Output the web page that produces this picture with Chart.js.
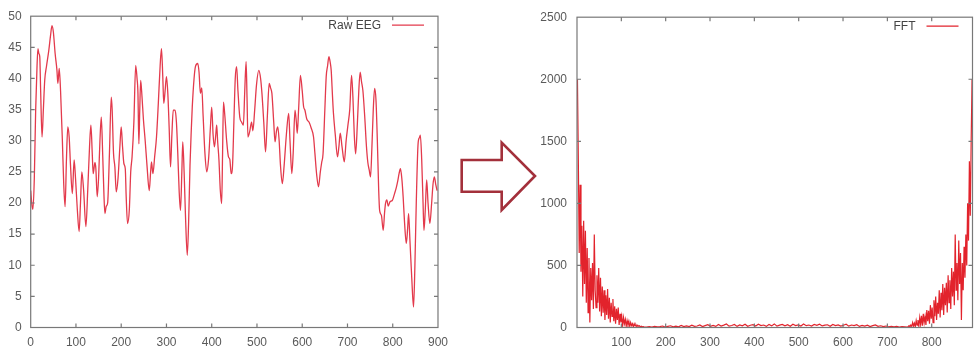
<!DOCTYPE html>
<html>
<head>
<meta charset="utf-8">
<script src="https://cdn.jsdelivr.net/npm/chart.js@4/dist/chart.umd.min.js"></script>
<style>
  html, body { margin: 0; padding: 0; background: #fff; }
  body { width: 974px; height: 349px; position: relative; overflow: hidden; }
  .box { position: absolute; top: 0; height: 349px; }
  #leftBox { left: 0; width: 456px; }
  #rightBox { left: 530px; width: 444px; }
  #arrow { position: absolute; left: 450px; top: 130px; }
</style>
</head>
<body>
<div class="box" id="leftBox"><canvas id="eeg"></canvas></div>
<div class="box" id="rightBox"><canvas id="fft"></canvas></div>
<svg id="arrow" width="100" height="95" viewBox="450 130 100 95">
  <polygon points="461.7,160 501.7,160 501.7,142.7 535,176 501.7,210 501.7,191.7 461.7,191.7"
           fill="#fff" stroke="#a3303b" stroke-width="2.6" stroke-linejoin="miter"/>
</svg>
<script>
// ---------- Raw EEG (left) ----------
const eegX = [0,3,5,8,11,14,16,18,20,22,25,28,31,35,40,44,47,50,54,58,60,63,66,70,73,76,79,82,85,88,92,96,99,103,107,110,113,117,122,126,130,133,136,138,142,144,147,150,153,156,159,162,164,167,170,174,178,180,183,186,189,193,197,200,203,206,209,211,214,218,221,224,228,232,235,237,239,241,243,246,249,253,257,262,265,267,270,274,278,282,286,289,292,294,297,300,303,306,309,312,315,319,322,325,328,331,334,336,339,342,346,349,352,355,357,361,364,369,372,375,378,381,385,389,393,397,400,403,406,409,411,413,416,419,422,424,426,429,433,437,440,443,446,449,452,455,458,462,466,470,473,476,478,480,484,488,491,495,499,504,508,511,515,519,523,527,530,533,537,540,543,546,549,552,556,560,565,570,573,577,580,584,587,589,592,596,600,603,606,610,615,620,625,628,632,636,640,643,646,650,653,656,659,662,664,667,669,673,678,681,684,688,693,697,701,705,709,712,715,718,722,725,728,731,734,738,742,745,748,751,754,757,760,763,766,769,771,775,779,782,784,787,790,794,799,804,808,811,814,817,820,823,826,830,833,835,838,842,846,849,852,856,859,861,864,867,869,872,875,878,882,886,889,892,895,898];
const eegY = [22,19.5,19,24,35,42,44.8,44,43.5,38,30.6,35,39.7,42,44.5,47,48.5,47.5,44,41.3,39.2,41.6,38,30,23,19.4,27,32.2,30.6,26,21.5,26.9,24,19,15.4,20,25,22,16.2,22,29,32.5,28,24.7,26.5,25.5,21,24,30,33.8,28,21,18.3,19.5,20,28,37,35,28,25.8,21.8,24,29,32.2,29,26.3,25.5,21,16.7,19,25,27.4,33,42.1,40,37.6,29.5,35,39.7,37,33.5,30,26,22,25,26.6,24.7,27.5,30.6,36,42,44.8,40,36,38,40.3,37.6,32,25.8,31,34.9,34.9,33,28,22,18.8,25,29.8,25,18,11.6,17,26,32,35.4,40,41.9,42.4,41,37.6,38.5,34,28,25,27,32,35.4,31,29,31,32.5,30,26.9,22,19.9,28,36.2,34,30,27.4,27,24.7,26,33,40,41.9,38,33.8,33,32.5,38,42.7,37,30.6,31.5,33,31.6,35,39,41.3,40,37.6,33,28.2,34,39.2,38.5,37.6,33,29.8,31.5,32.2,30,26,23.1,26,31,34.4,30,24.7,28,34.9,33,31.2,35,40.5,38,35.5,34.9,33.5,33,32,30.6,28,24.5,22.6,25,26.5,27.9,35,40.3,42,43.5,42.5,41.3,37,34.4,31,27.4,29,31.2,29,26.6,30,32.5,35,40.5,37,31,27.9,33,38,41,39.5,38.1,34,29,26.5,25.3,24.2,29,35,38.4,36.5,30,22,18.8,18,15.6,18.5,19.9,20.5,19.5,20.2,20.4,21.5,22.5,23.5,24.7,25.5,24,21,17,13.5,16,18.3,14,8,3.3,10,20,29.5,30.5,30.9,27,20,15.6,19,23.7,20,16.7,20,23,24.2,23,22];
const eegXTicks = [0,100,200,300,400,500,600,700,800,900];
const eegYTicks = [0,5,10,15,20,25,30,35,40,45,50];

// ---------- FFT (right) ----------
// low lobe: x = 1,3,5,...
const fftLowStart = 1, fftLowStep = 2;
const fftLow = [2000,1350,600,1150,450,820,250,860,350,780,200,640,120,560,40,480,220,520,150,750,300,160,420,200,480,130,400,90,330,120,300,60,260,100,310,70,240,40,200,90,230,50,170,30,150,60,160,20,110,40,90,15,80,30,65,10,55,20,50,8,40,15,30,5,30,12,22,6,18,10,14,4,10,6,8];
// noise floor: x = 151,157,...
const fftMidStart = 151, fftMidStep = 6;
const fftMid = [6,3,8,4,10,5,7,12,4,9,14,6,11,5,16,8,13,7,18,9,12,20,8,15,22,10,17,9,24,12,19,28,11,16,25,9,21,14,26,10,18,23,12,27,15,20,9,24,13,29,11,19,25,14,22,10,26,16,21,12,28,15,20,11,24,17,27,13,19,22,10,25,16,21,12,18,26,11,20,15,23,9,17,12,19,8,15,21,10,14,7,12,6,10,5,9,4,8,6,3];
// high lobe: x = 747,749,...
const fftHighStart = 747, fftHighStep = 2;
const fftHigh = [8,15,5,20,8,40,12,35,5,55,18,60,10,80,25,95,15,110,40,90,20,140,50,135,30,180,70,160,40,220,90,250,60,200,110,300,80,280,140,350,100,320,180,360,120,420,200,380,150,480,250,450,180,750,300,520,220,700,350,600,60,520,300,650,400,750,500,1000,700,1340,900,1500,2000];
const fftXTicks = [100,200,300,400,500,600,700,800];
const fftYTicks = [0,500,1000,1500,2000,2500];

function pts(xs, ys) { return ys.map((v, i) => ({ x: xs[i], y: v })); }
function seg(start, step, ys) { return ys.map((v, i) => ({ x: start + i * step, y: v })); }

const FONT = { family: "'Liberation Sans', Arial, sans-serif", size: 12 };
const TICKCOL = '#5a5a5a';

const framePlugin = {
  id: 'gnuframe',
  afterDatasetsDraw(chart) {
    const { ctx, chartArea: a, scales } = chart;
    const x = scales.x, y = scales.y;
    ctx.save();
    ctx.strokeStyle = '#787878';
    ctx.lineWidth = 1.2;
    ctx.strokeRect(a.left, a.top, a.right - a.left, a.bottom - a.top);
    const L = 4;
    ctx.beginPath();
    x.ticks.forEach(t => {
      const p = x.getPixelForValue(t.value);
      if (p <= a.left + 1 || p >= a.right - 1) return;
      ctx.moveTo(p, a.bottom); ctx.lineTo(p, a.bottom - L);
      ctx.moveTo(p, a.top); ctx.lineTo(p, a.top + L);
    });
    y.ticks.forEach(t => {
      const p = y.getPixelForValue(t.value);
      if (p <= a.top + 1 || p >= a.bottom - 1) return;
      ctx.moveTo(a.left, p); ctx.lineTo(a.left + L, p);
      ctx.moveTo(a.right, p); ctx.lineTo(a.right - L, p);
    });
    ctx.stroke();
    // gnuplot-style key
    const ds = chart.data.datasets[0];
    const ky = a.top + 9;
    ctx.font = `${FONT.size}px ${FONT.family}`;
    ctx.fillStyle = '#444';
    ctx.textAlign = 'right';
    ctx.textBaseline = 'middle';
    ctx.fillText(ds.label, a.right - 57, ky);
    ctx.strokeStyle = ds.borderColor;
    ctx.lineWidth = 1.3;
    ctx.beginPath();
    ctx.moveTo(a.right - 46, ky); ctx.lineTo(a.right - 14, ky);
    ctx.stroke();
    ctx.restore();
  }
};

function makeChart(id, cfg) {
  return new Chart(document.getElementById(id), {
    type: 'line',
    data: { datasets: [cfg.dataset] },
    options: {
      responsive: true,
      maintainAspectRatio: false,
      animation: false,
      layout: { padding: cfg.padding },
      plugins: { legend: { display: false }, tooltip: { enabled: false } },
      elements: { point: { radius: 0 } },
      scales: {
        x: {
          type: 'linear', min: cfg.xmin, max: cfg.xmax,
          grid: { display: false, drawTicks: false },
          border: { display: false },
          afterBuildTicks: s => { s.ticks = cfg.xticks.map(v => ({ value: v })); },
          afterFit: s => { s.height = 21.5; },
          ticks: { font: FONT, color: TICKCOL, padding: 8, maxRotation: 0, autoSkip: false,
                   callback: v => String(v) }
        },
        y: {
          type: 'linear', min: cfg.ymin, max: cfg.ymax,
          grid: { display: false, drawTicks: false },
          border: { display: false },
          afterBuildTicks: s => { s.ticks = cfg.yticks.map(v => ({ value: v })); },
          afterFit: s => { s.width = cfg.yw; },
          ticks: { font: FONT, color: TICKCOL, padding: cfg.ypad, autoSkip: false,
                   callback: v => String(v) }
        }
      }
    },
    plugins: [framePlugin]
  });
}

makeChart('eeg', {
  dataset: {
    label: 'Raw EEG', data: pts(eegX, eegY),
    borderColor: '#e33a4c', borderWidth: 1.3, cubicInterpolationMode: 'monotone', fill: false
  },
  padding: { top: 16, right: 12.7, left: 0, bottom: 0 },
  xmin: 0, xmax: 900, ymin: 0, ymax: 50,
  xticks: eegXTicks, yticks: eegYTicks, yw: 30.7, ypad: 9
});

makeChart('fft', {
  dataset: {
    label: 'FFT',
    data: seg(fftLowStart, fftLowStep, fftLow)
      .concat(seg(fftMidStart, fftMidStep, fftMid))
      .concat(seg(fftHighStart, fftHighStep, fftHigh)),
    borderColor: '#e2232c', borderWidth: 1.2, fill: false
  },
  padding: { top: 16, right: 1.5, left: 0, bottom: 0 },
  xmin: 0, xmax: 892, ymin: 0, ymax: 2500,
  xticks: fftXTicks, yticks: fftYTicks, yw: 47, ypad: 10
});
</script>
</body>
</html>
